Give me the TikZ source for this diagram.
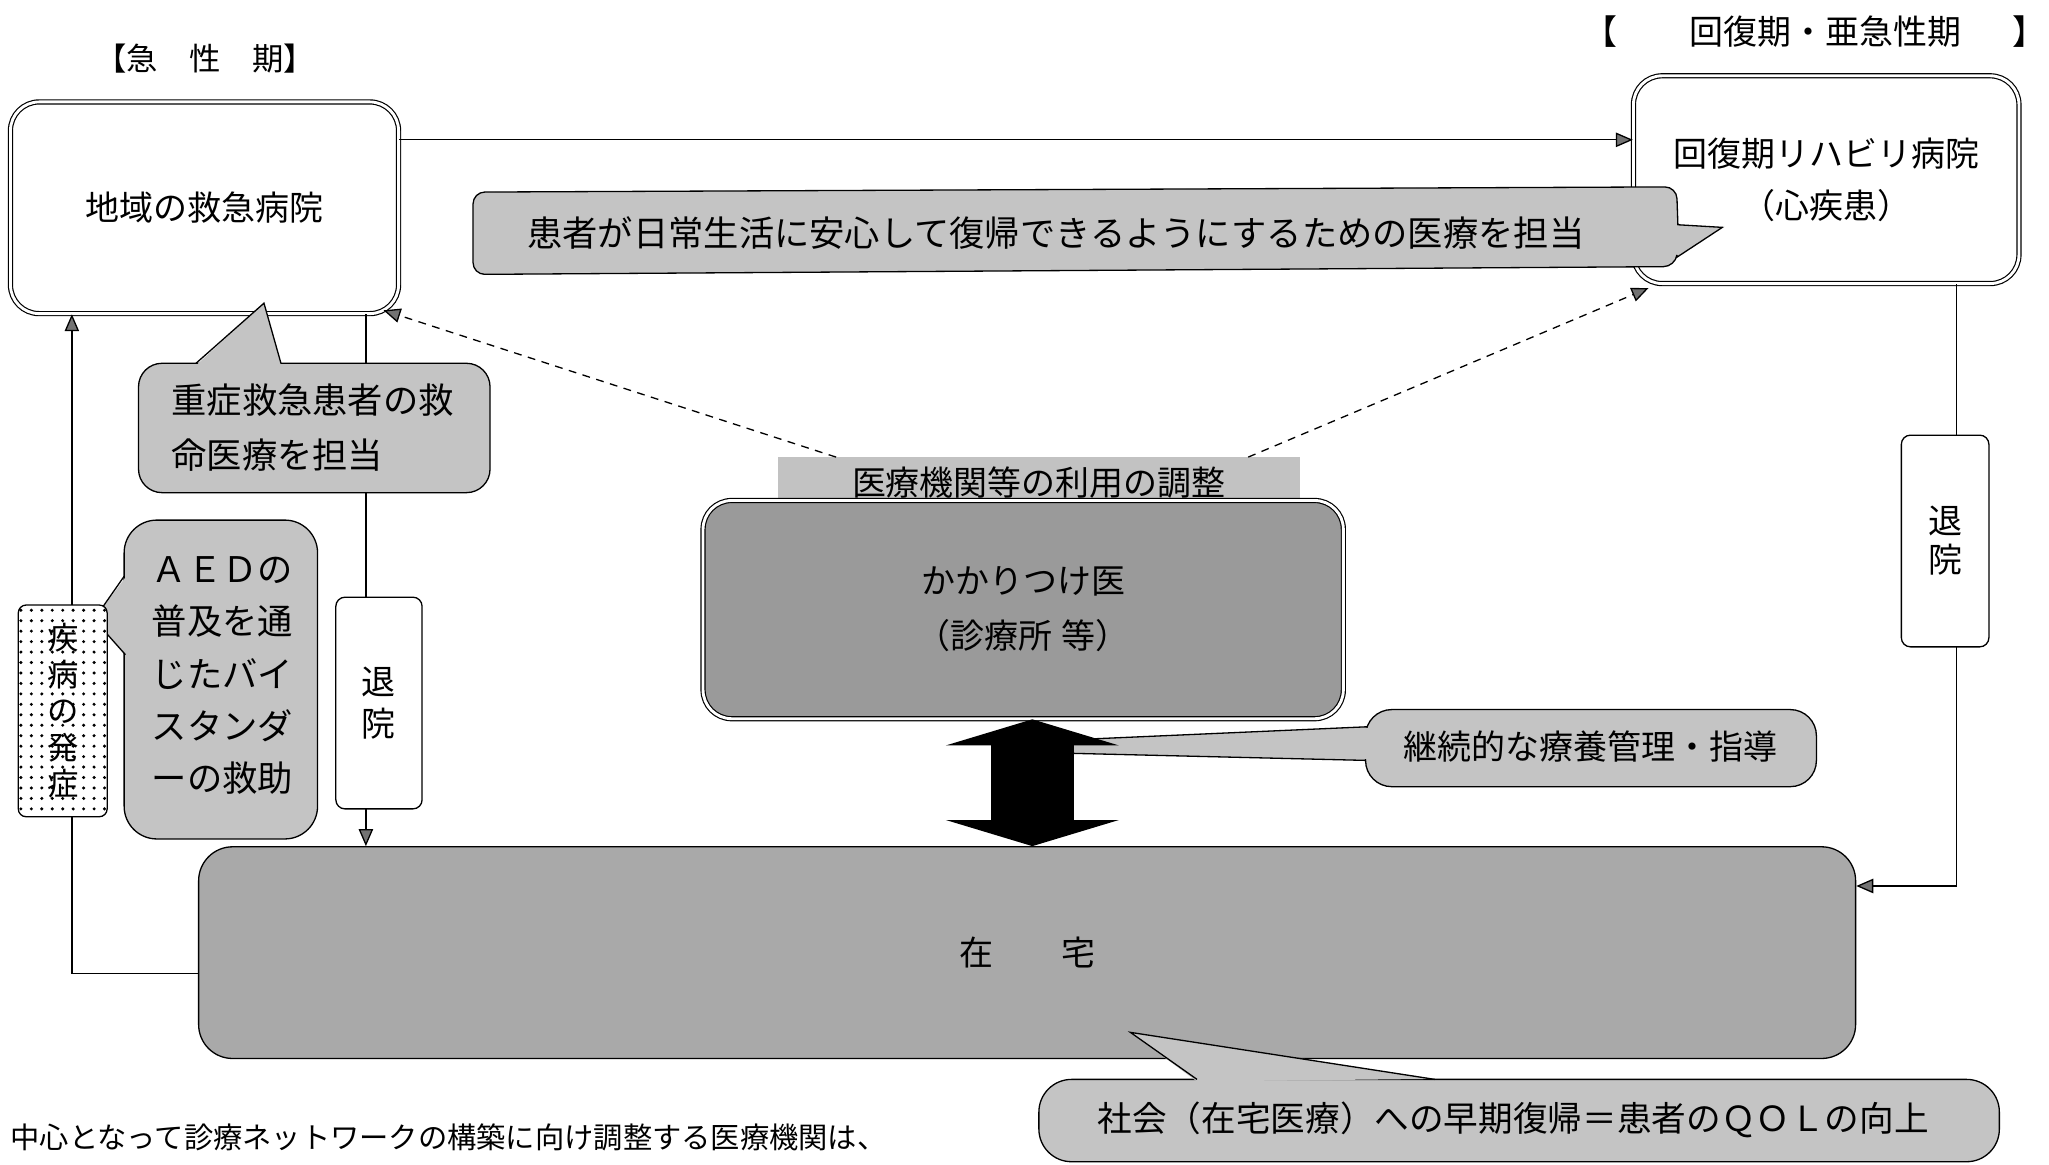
\documentclass[tikz,border=0pt]{standalone}
\usepackage{fontspec}
\setmainfont{Noto Sans CJK JP}
\usetikzlibrary{arrows.meta,patterns.meta}
\definecolor{callgray}{HTML}{C4C4C4}
\definecolor{labgray}{HTML}{C2C2C2}
\definecolor{homegray}{HTML}{A9A9A9}
\definecolor{kgray}{HTML}{9A9A9A}
\tikzset{
  txt/.style={inner sep=0pt, font=\fontsize{26}{40}\selectfont},
  dbox/.style={draw, line width=0.9pt, double=white, double distance=2.2pt, rounded corners=22pt},
  callout/.style={draw, line width=1pt, fill=callgray},
  tipA/.tip={Triangle[length=13pt,width=11pt,fill=black!55]},
  conn/.style={line width=1pt, -tipA},
  dconn/.style={line width=1pt, dash pattern=on 6pt off 5pt, -tipA},
  smallbox/.style={draw, line width=1pt, rounded corners=7pt, fill=white, align=center, inner sep=0pt},
  bigarr/.style={line width=64pt, {Triangle[length=20pt,width=132pt]}-{Triangle[length=20pt,width=132pt]}}
}
\begin{document}
\begin{tikzpicture}[x=1pt,y=-1pt]
\useasboundingbox (0,0) rectangle (1568,891);
\clip (0,0) rectangle (1568,891);

% titles
\node[inner sep=0pt, font=\fontsize{24}{24}\selectfont] (t1) at (157,45) {【急　性　期】};
\node[inner sep=0pt, font=\fontsize{26}{26}\selectfont] (t2a) at (1225,24) {【};
\node[inner sep=0pt, font=\fontsize{26}{26}\selectfont] (t2) at (1397,24) {回復期・亜急性期};
\node[inner sep=0pt, font=\fontsize{26}{26}\selectfont] (t2b) at (1553,24) {】};

% main boxes
\node[dbox, fill=white, minimum width=297pt, minimum height=162pt, txt] (er) at (156.5,159) {地域の救急病院};
\node[dbox, fill=white, minimum width=295pt, minimum height=159pt, txt, align=center] (reh) at (1397.5,137.5) {回復期リハビリ病院\\（心疾患）};
\node[fill=labgray, minimum width=400pt, minimum height=38pt, txt] (lab) at (795,369) {医療機関等の利用の調整};
\node[dbox, fill=kgray, minimum width=490pt, minimum height=167pt, align=center, txt, font=\fontsize{26}{42}\selectfont] (kk) at (783,466.5) {かかりつけ医\\（診療所\hspace{7pt}等）};
\node[draw, line width=1pt, fill=homegray, rounded corners=26pt, minimum width=1268pt, minimum height=162pt, txt] (home) at (786,729) {在　　宅};

% connectors
\coordinate (topy) at (0,107);
\draw[conn] (er.east |- topy) -- (reh.west |- topy);
\coordinate (lc) at (55,745);
\draw[conn] (home.west |- lc) -- (lc) -- (lc |- er.south);
\coordinate (lx) at (280,0);
\draw[conn] (er.south -| lx) -- (home.north -| lx);
\coordinate (rc) at (1497,678);
\draw[conn] (reh.south -| rc) -- (rc) -- (rc -| home.east);
\draw[dconn] ([xshift=45pt]lab.north west) -- ([xshift=-12pt,yshift=3pt]er.south east);
\draw[dconn] ([xshift=-40pt]lab.north east) -- ([xshift=12pt,yshift=-3pt]reh.south west);

% callout: patient daily life
\draw[callout, rounded corners=9pt] (362,147) -- (1283,143) [sharp corners] -- (1284,172) -- (1318,174) -- (1283,197) [rounded corners=9pt] -- (1282,204) -- (362,210) -- cycle;
\node[inner sep=0pt, font=\fontsize{27}{30}\selectfont] (c1) at (808,178) {患者が日常生活に安心して復帰できるようにするための医療を担当};

% callout: severe emergency
\draw[callout, rounded corners=18pt] (106,278) rectangle (375,377);
\fill[callgray] (150,279.6) -- (202,232) -- (215,279.6) -- cycle;
\draw[line width=1pt] (150,278) -- (202,232) -- (215,278);
\node[txt, anchor=west, align=left, font=\fontsize{27}{42}\selectfont] (c2) at (131,327) {重症救急患者の救\\命医療を担当};

% discharge boxes
\node[smallbox, minimum width=66pt, minimum height=162pt, font=\fontsize{26}{32}\selectfont] (d1) at (290,538) {退\\院};
\node[smallbox, minimum width=67pt, minimum height=162pt, font=\fontsize{26}{30}\selectfont] (d2) at (1488.5,414) {退\\院};

% AED callout
\draw[callout, rounded corners=25pt] (95,398) rectangle (243,642);
\fill[callgray] (96.6,441) -- (72,474) -- (96.6,501) -- cycle;
\draw[line width=1pt] (95,441) -- (72,474) -- (96,501);
\node[txt, anchor=west, align=left, font=\fontsize{27}{40}\selectfont] (c3) at (116,517) {ＡＥＤの\\普及を通\\じたバイ\\スタンダ\\ーの救助};

% onset box
\node[draw, line width=1pt, rounded corners=6pt, preaction={fill=white}, pattern={Dots[distance=8pt,radius=1.3pt]}, minimum width=68pt, minimum height=162pt, align=center, inner sep=0pt, font=\fontsize{24}{28}\selectfont] (on) at (48,544) {疾\\病\\の\\発\\症};

% continuous care callout
\fill[callgray, draw=black, line width=1pt] (800,567) -- (1050,556) -- (1050,582) -- (800,576) -- cycle;
\draw[callout, rounded corners=20pt] (1045,543) rectangle (1390,602);
\fill[callgray] (1044,557) rectangle (1047,581);
\node[txt] (c4) at (1217,571) {継続的な療養管理・指導};

% big double arrow
\coordinate (ax) at (790,0);
\draw[bigarr] (kk.south -| ax) -- (home.north -| ax);

% society callout
\draw[callout, rounded corners=25pt] (795,826) rectangle (1530,889);
\fill[callgray] (916,827.6) -- (865,790) -- (1098,825.6) -- cycle;
\draw[line width=1pt] (916,826) -- (865,790) -- (1098,826);
\node[inner sep=0pt, font=\fontsize{26.5}{30}\selectfont] (c5) at (1158,857) {社会（在宅医療）への早期復帰＝患者のＱＯＬの向上};

% bottom note
\node[anchor=west, inner sep=0pt, font=\fontsize{22.4}{24}\selectfont] (note) at (8,870) {中心となって診療ネットワークの構築に向け調整する医療機関は、};
\end{tikzpicture}
\end{document}
